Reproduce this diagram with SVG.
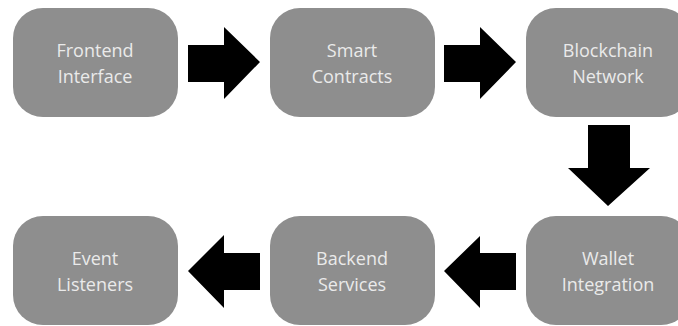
<svg xmlns="http://www.w3.org/2000/svg" width="678" height="326" viewBox="0 0 678 326">
<style>
.box{fill:#8e8e8e}
.lbl{font-family:"Open Sans","Liberation Sans",sans-serif;font-size:18px;fill:#eaeaea;text-anchor:middle}
.arr{fill:#000}
</style>
<rect width="678" height="326" fill="#fff"/>
<g id="frontend"><rect class="box" x="13" y="8" width="165" height="109" rx="30"/><text class="lbl" x="95" y="57">Frontend</text><text class="lbl" x="95" y="83">Interface</text></g>
<g id="smart"><rect class="box" x="270" y="8" width="165" height="109" rx="30"/><text class="lbl" x="352" y="57">Smart</text><text class="lbl" x="352" y="83">Contracts</text></g>
<g id="blockchain"><rect class="box" x="526" y="8" width="165" height="109" rx="30"/><text class="lbl" x="608" y="57">Blockchain</text><text class="lbl" x="608" y="83">Network</text></g>
<g id="events"><rect class="box" x="13" y="216" width="165" height="109" rx="30"/><text class="lbl" x="95" y="265">Event</text><text class="lbl" x="95" y="291">Listeners</text></g>
<g id="backend"><rect class="box" x="270" y="216" width="165" height="109" rx="30"/><text class="lbl" x="352" y="265">Backend</text><text class="lbl" x="352" y="291">Services</text></g>
<g id="wallet"><rect class="box" x="526" y="216" width="165" height="109" rx="30"/><text class="lbl" x="608" y="265">Wallet</text><text class="lbl" x="608" y="291">Integration</text></g>
<g id="connectors">
<polygon class="arr" points="188,45 224,45 224,27 260,62 224,99 224,82 188,82"/>
<polygon class="arr" points="444,45 480,45 480,27 516,62 480,99 480,82 444,82"/>
<polygon class="arr" points="588,125 630,125 630,168 650,168 608,206 568,168 588,168"/>
<polygon class="arr" points="260,253 224,253 224,235 188,271 224,308 224,290 260,290"/>
<polygon class="arr" points="516,253 480,253 480,236 444,271 480,308 480,290 516,290"/>
</g>
</svg>
